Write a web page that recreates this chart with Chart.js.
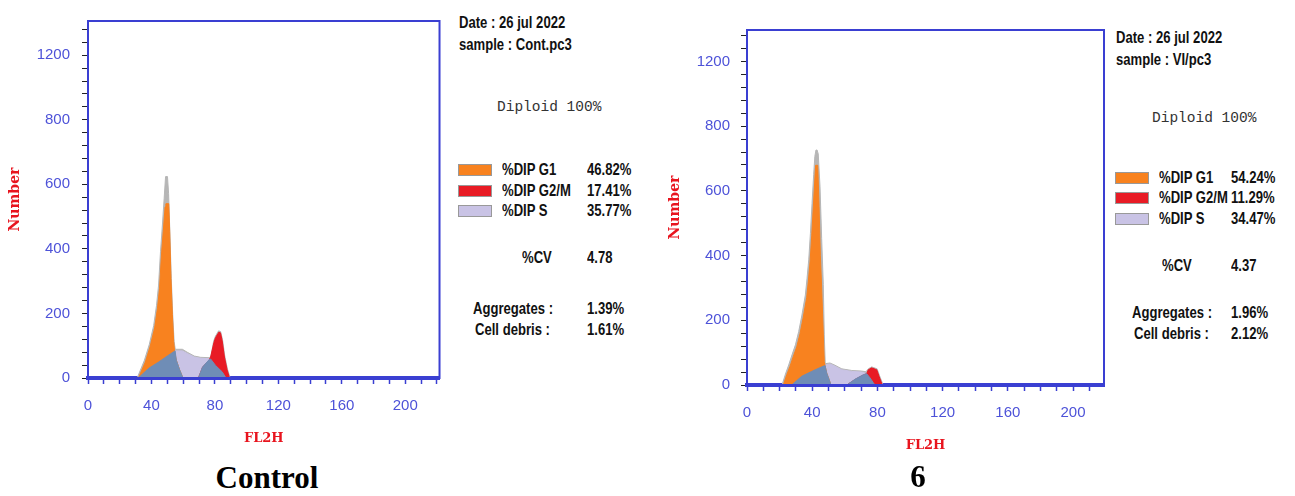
<!DOCTYPE html>
<html>
<head>
<meta charset="utf-8">
<script src="https://cdn.jsdelivr.net/npm/chart.js@4"></script>
<style>
  body { margin: 0; background: #fff; width: 1295px; height: 496px; position: relative; overflow: hidden; }
  canvas { position: absolute; }
  .t { position: absolute; white-space: nowrap; line-height: 18px; height: 18px;
       font-family: 'Liberation Sans', 'DejaVu Sans', sans-serif;
       font-weight: bold; font-size: 17px; color: #111;
       transform: scaleX(0.77); transform-origin: 0 50%; }
  .mono { font-family: 'Liberation Mono', 'DejaVu Sans Mono', monospace; font-weight: normal; font-size: 14.5px; color: #333; transform: none; }
  .sw { position: absolute; width: 34px; height: 12px; border: 1px solid #999; box-sizing: border-box; }
  .cap { position: absolute; font-family: 'Liberation Serif', 'DejaVu Serif', serif; font-weight: bold; font-size: 31px; color: #000; transform: translate(-50%, -50%); }
</style>
</head>
<body>
<canvas id="ctl" width="450" height="460" style="left:0;top:0"></canvas>
<canvas id="trt" width="450" height="457" style="left:660px;top:10px"></canvas>
<div class="cap" style="left:267px;top:478px">Control</div>
<div class="cap" style="left:918px;top:477px">6</div>
<script>
// tick labels
const xTickLabels = [0, 40, 80, 120, 160, 200];
const yTickValues = [0, 200, 400, 600, 800, 1000];
const yTickLabels = ['0', '200', '400', '600', '800', '1200'];

// Control: channel (FL2H) / count pairs
const ctlRawCh = [31.0, 35.5, 38.6, 41.4, 43.2, 44.5, 45.7, 46.9, 48.0, 48.9, 50.1, 50.8, 51.6, 52.5, 53.4, 54.3, 55.0, 59.5, 62.5, 67, 71, 76.4, 77.5, 79.2, 80.3, 82.3, 83.6, 84.8, 86.2, 87.9, 89.6];
const ctlRawN  = [0, 54, 103, 162, 225, 288, 391, 474, 556, 624, 624, 572, 453, 309, 196, 113, 89, 89, 80, 68, 64, 63, 68, 114, 129, 146, 144, 119, 69, 28, 0];
const ctlG1Ch = [31.8, 36.1, 39.2, 42.0, 43.8, 45.1, 46.3, 47.5, 48.6, 49.1, 50.9, 51.5, 52.3, 53.2, 54.0, 54.6, 55.7, 57.8, 59.9];
const ctlG1N  = [0, 49, 98, 155, 216, 278, 381, 458, 530, 540, 540, 453, 309, 196, 113, 82, 55, 25, 0];
const ctlG2Ch = [69.6, 72.2, 76.4, 77.3, 79.4, 80.4, 82.5, 83.5, 84.6, 86.0, 87.7, 89.2];
const ctlG2N  = [0, 33, 56, 65, 110, 125, 142, 140, 115, 65, 25, 0];
const ctlSCh = [31.7, 38.3, 44.4, 50.6, 54.9, 59.5, 62.5, 67, 71, 76.4, 80.4, 84.6, 87.0];
const ctlSN  = [0, 30, 49, 70, 84, 84, 76, 65, 61, 60, 39, 19, 0];
const ctlMixCh = [31.7, 38.3, 44.4, 50.6, 54.9, 55.7, 57.8, 59.9, 69.6, 72.2, 76.4, 77.3, 80.4, 84.6, 87.0];
const ctlMixN  = [0, 30, 49, 70, 84, 55, 25, 0, 0, 34, 57, 59, 39, 19, 0];

// Sample 6
const trtRawCh = [21.5, 23.6, 25.6, 27.6, 29.7, 31.7, 33.7, 35.8, 36.8, 37.9, 38.9, 39.9, 40.9, 41.6, 42.3, 43.0, 43.7, 44.8, 45.8, 46.8, 47.4, 48.0, 50.9, 54.0, 58.1, 64.2, 70.4, 73.0, 74.4, 76.5, 79.8, 81.3, 83.5];
const trtRawN  = [0, 34, 62, 93, 124, 165, 216, 278, 328, 389, 469, 561, 651, 706, 726, 726, 714, 612, 453, 311, 155, 66, 68, 61, 50, 45, 43, 41, 50, 56, 50, 29, 0];
const trtG1Ch = [22.3, 24.4, 26.4, 28.4, 30.5, 32.5, 34.5, 36.6, 37.6, 38.7, 39.7, 40.7, 41.7, 42.1, 43.4, 44.2, 45.0, 45.8, 46.6, 47.4, 47.9, 48.9, 50.3, 51.5];
const trtG1N  = [0, 32, 58, 88, 118, 158, 209, 270, 319, 381, 461, 552, 643, 679, 679, 552, 401, 300, 188, 72, 60, 37, 18, 0];
const trtG2Ch = [61.2, 66.3, 71.4, 73.4, 74.4, 76.5, 79.6, 81.0, 83.0];
const trtG2N  = [0, 17, 31, 35, 47, 53, 47, 27, 0];
const trtSCh = [27.4, 33.6, 39.7, 45.8, 47.9, 50.9, 54.0, 58.1, 64.2, 70.4, 73.4, 75.5, 77.5, 78.5];
const trtSN  = [0, 27, 42, 56, 62, 65, 58, 47, 42, 40, 35, 22, 7, 0];
const trtMixCh = [27.4, 33.6, 39.7, 45.8, 47.9, 48.9, 50.3, 51.5, 61.2, 66.3, 71.4, 73.4, 75.5, 77.5, 78.5];
const trtMixN  = [0, 27, 42, 56, 60, 37, 18, 0, 0, 18, 32, 35, 22, 7, 0];

// side panel texts
const phaseNames = ['%DIP G1', '%DIP G2/M', '%DIP S'];
const ctlPhasePct = ['46.82%', '17.41%', '35.77%'];
const trtPhasePct = ['54.24%', '11.29%', '34.47%'];
const ctlStats = ['4.78', '1.39%', '1.61%'];
const trtStats = ['4.37', '1.96%', '2.12%'];

const BLUE = '#3a3fd2';
const TICKBLUE = '#4d52d8';
const RED = '#e8141e';
const COLORS = { raw: '#b6b6b6', g1: '#f8821f', g2: '#e81b25', s: '#c9c3e5', mix: '#6f8db6' };

function pts(ch, n) {
  return ch.map((c, i) => ({ x: c, y: n[i] }));
}

function area(label, ch, n, color, order) {
  return {
    label: label, data: pts(ch, n),
    backgroundColor: color, borderColor: color, borderWidth: 1,
    fill: 'origin', pointRadius: 0, tension: 0, order: order
  };
}

const boxPlugin = {
  id: 'box',
  afterDatasetsDraw(chart) {
    const a = chart.chartArea, ctx = chart.ctx;
    ctx.save();
    ctx.strokeStyle = BLUE;
    ctx.lineWidth = 2;
    ctx.strokeRect(a.left, a.top, a.right - a.left, a.bottom - a.top);
    ctx.restore();
  }
};

function makeChart(id, sets, xMax, yMax, yWidth, padRight, yPad) {
  new Chart(document.getElementById(id), {
    type: 'line',
    data: { datasets: sets },
    options: {
      responsive: false,
      animation: false,
      events: [],
      layout: { padding: { top: 13, right: padRight, left: 0, bottom: 0 } },
      plugins: { legend: { display: false }, tooltip: { enabled: false } },
      scales: {
        x: {
          type: 'linear', min: 0, max: xMax, z: 1,
          afterFit: s => { s.height = 82; },
          border: { color: BLUE, width: 4 },
          grid: { drawOnChartArea: false, tickLength: 6, tickColor: BLUE, tickWidth: 1.5 },
          ticks: {
            stepSize: 10, autoSkip: false, maxRotation: 0, includeBounds: false, padding: 13,
            color: TICKBLUE, font: { family: 'Liberation Sans', size: 15 },
            callback: v => xTickLabels.includes(v) ? String(v) : ''
          },
          title: { display: true, text: 'FL2H', color: RED,
                   font: { family: 'DejaVu Serif', size: 13, weight: 'bold' }, padding: { top: 0, bottom: 14 } }
        },
        y: {
          min: 0, max: yMax,
          afterFit: s => { s.width = yWidth; },
          border: { color: BLUE, width: 2 },
          grid: { drawOnChartArea: false, tickLength: 6, tickColor: '#222' },
          ticks: {
            stepSize: 40, autoSkip: false, includeBounds: false, padding: yPad,
            color: TICKBLUE, font: { family: 'Liberation Sans', size: 15 },
            callback: v => {
              const i = yTickValues.indexOf(v);
              return i >= 0 ? yTickLabels[i] : '';
            }
          },
          title: { display: true, text: 'Number', color: RED,
                   font: { family: 'DejaVu Serif', size: 14, weight: 'bold' }, padding: { top: 7, bottom: 0 } }
        }
      }
    },
    plugins: [boxPlugin]
  });
}

makeChart('ctl', [
  area('S / G overlap', ctlMixCh, ctlMixN, COLORS.mix, 0),
  area('G1', ctlG1Ch, ctlG1N, COLORS.g1, 1),
  area('G2/M', ctlG2Ch, ctlG2N, COLORS.g2, 2),
  area('S', ctlSCh, ctlSN, COLORS.s, 3),
  area('Data', ctlRawCh, ctlRawN, COLORS.raw, 4)
], 221.6, 1106, 88, 3, 12);

makeChart('trt', [
  area('S / G overlap', trtMixCh, trtMixN, COLORS.mix, 0),
  area('G1', trtG1Ch, trtG1N, COLORS.g1, 1),
  area('G2/M', trtG2Ch, trtG2N, COLORS.g2, 2),
  area('S', trtSCh, trtSN, COLORS.s, 3),
  area('Data', trtRawCh, trtRawN, COLORS.raw, 4)
], 219, 1097, 87, 6, 11);

// side panels
function addText(x, cy, text, cls) {
  const d = document.createElement('div');
  d.className = 't' + (cls ? ' ' + cls : '');
  d.style.left = x + 'px';
  d.style.top = (cy - 9) + 'px';
  d.textContent = text;
  document.body.appendChild(d);
}

function addSwatch(x, cy, color) {
  const d = document.createElement('div');
  d.className = 'sw';
  d.style.left = x + 'px';
  d.style.top = (cy - 6) + 'px';
  d.style.background = color;
  document.body.appendChild(d);
}

function panel(p, sample, pct, stats) {
  addText(p.x0, p.date, 'Date : 26 jul 2022');
  addText(p.x0, p.date + 22, 'sample : ' + sample);
  addText(p.dip, p.dipY, 'Diploid 100%', 'mono');
  const sw = [COLORS.g1, COLORS.g2, COLORS.s];
  p.rows.forEach((cy, i) => {
    addSwatch(p.x0 - 1, cy, sw[i]);
    addText(p.lab, cy, phaseNames[i]);
    addText(p.val, cy, pct[i]);
  });
  addText(p.cv, p.cvY, '%CV');
  addText(p.val, p.cvY, stats[0]);
  addText(p.agg, p.aggY, 'Aggregates :');
  addText(p.val, p.aggY, stats[1]);
  addText(p.agg + 2, p.aggY + 21, 'Cell debris :');
  addText(p.val, p.aggY + 21, stats[2]);
}

panel({ x0: 459, date: 23, dip: 497, dipY: 107, rows: [170, 191, 211], lab: 502, val: 587,
        cv: 522, cvY: 258, agg: 473, aggY: 309 }, 'Cont.pc3', ctlPhasePct, ctlStats);
panel({ x0: 1116, date: 38, dip: 1152, dipY: 118, rows: [178, 198, 219], lab: 1159, val: 1231,
        cv: 1162, cvY: 266, agg: 1132, aggY: 313 }, 'VI/pc3', trtPhasePct, trtStats);
</script>
</body>
</html>
